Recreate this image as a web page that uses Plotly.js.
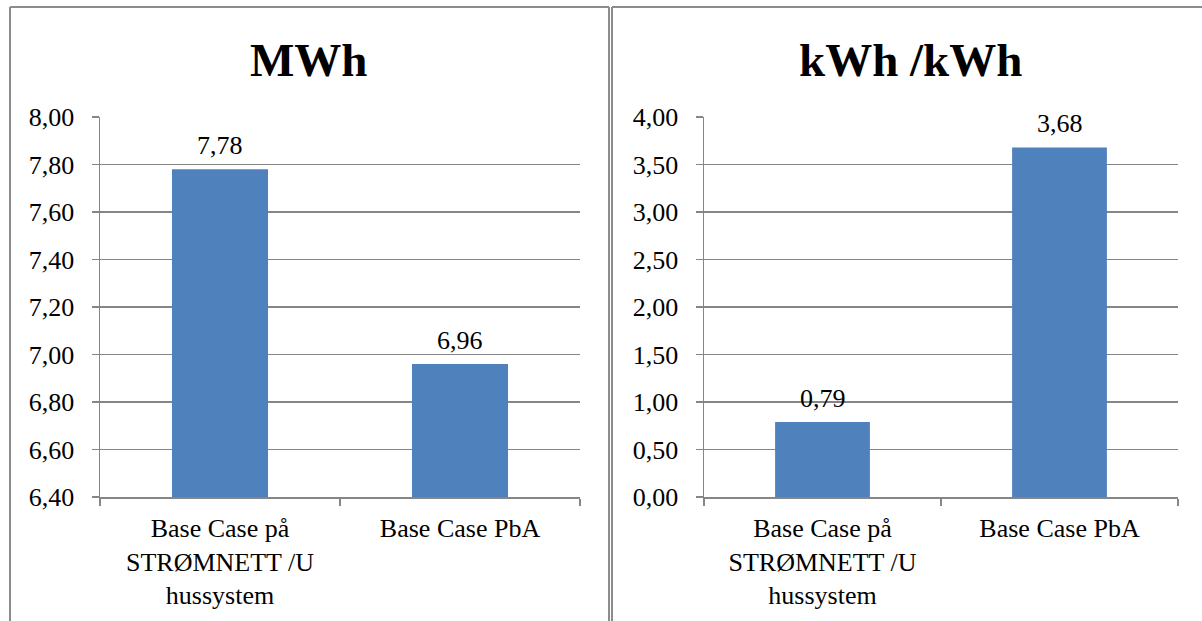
<!DOCTYPE html>
<html>
<head>
<meta charset="utf-8">
<script src="https://cdn.plot.ly/plotly-3.0.1.min.js"></script>
<style>
  html, body { margin: 0; padding: 0; background: #ffffff; }
  #chart { width: 1202px; height: 621px; }
</style>
</head>
<body>
<div id="chart"></div>
<script>
// Two side-by-side bar panels: energy (MWh) and energy ratio (kWh/kWh)
var categories = ["Base Case på<br>STRØMNETT /U<br>hussystem", "Base Case PbA"];
var energyMWh = [7.78, 6.96];
var ratioKWh = [0.79, 3.68];
var panelTitles = ["MWh", "kWh /kWh"];

var W = 1202, H = 621;
var barColor = "#4F81BD";
var gridColor = "#868686";
var serif = "Liberation Serif";
var labelSize = 26;

function px(x) { return x / W; }
function py(y) { return 1 - y / H; }

var barCommon = {
  type: "bar",
  marker: { color: barColor },
  width: 0.4,
  hoverinfo: "skip"
};

var traces = [
  Object.assign({}, barCommon, { x: categories, y: energyMWh, xaxis: "x", yaxis: "y" }),
  Object.assign({}, barCommon, { x: categories, y: ratioKWh, xaxis: "x2", yaxis: "y2" })
];

function fmt(v) { return v.toFixed(2).replace(".", ","); }

function xAxis(domain, anchor) {
  return {
    domain: domain, anchor: anchor, type: "category",
    showline: true, linecolor: gridColor, linewidth: 1.5,
    ticks: "outside", tickson: "boundaries", ticklen: 7, tickcolor: gridColor, tickwidth: 1.5,
    showgrid: false, tickangle: 0, ticklabelstandoff: 7,
    tickfont: { family: serif, size: labelSize, color: "#000000" }
  };
}
function yAxis(domain, anchor, range, dtick) {
  return {
    domain: domain, anchor: anchor, range: range, dtick: dtick, tick0: range[0],
    tickformat: ".2f",
    showline: true, linecolor: gridColor, linewidth: 1.5,
    ticks: "outside", ticklen: 7, tickcolor: gridColor, tickwidth: 1.5,
    showgrid: true, gridcolor: gridColor, gridwidth: 1.5,
    zeroline: false, ticklabelstandoff: 12,
    tickfont: { family: serif, size: labelSize, color: "#000000" }
  };
}

var yDom = [py(497), py(117)];

var panelBorder = { color: "#8c8c8c", width: 2 };
var shapes = [
  // left panel frame
  { type: "line", xref: "paper", yref: "paper", x0: px(10), x1: px(10), y0: py(7), y1: -0.05, line: panelBorder },
  { type: "line", xref: "paper", yref: "paper", x0: px(10), x1: px(609), y0: py(7), y1: py(7), line: panelBorder },
  { type: "line", xref: "paper", yref: "paper", x0: px(609), x1: px(609), y0: py(7), y1: -0.05, line: panelBorder },
  // right panel frame
  { type: "line", xref: "paper", yref: "paper", x0: px(612), x1: px(612), y0: py(7), y1: -0.05, line: panelBorder },
  { type: "line", xref: "paper", yref: "paper", x0: px(612), x1: 1.05, y0: py(7), y1: py(7), line: panelBorder }
];

var annotations = [
  { text: "<b>" + panelTitles[0] + "</b>", xref: "paper", yref: "paper", x: px(309), y: py(60),
    showarrow: false, xanchor: "center", yanchor: "middle", font: { family: serif, size: 47, color: "#000000" } },
  { text: "<b>" + panelTitles[1] + "</b>", xref: "paper", yref: "paper", x: px(910), y: py(60),
    showarrow: false, xanchor: "center", yanchor: "middle", font: { family: serif, size: 47, color: "#000000" } }
];

// value labels above each bar, positioned by the data values
[[energyMWh, "x", "y"], [ratioKWh, "x2", "y2"]].forEach(function (s) {
  s[0].forEach(function (v, i) {
    annotations.push({
      text: fmt(v), xref: s[1], yref: s[2], x: categories[i], y: v,
      showarrow: false, xanchor: "center", yanchor: "bottom", yshift: 7,
      font: { family: serif, size: labelSize, color: "#000000" }
    });
  });
});

var layout = {
  width: W, height: H,
  margin: { l: 0, r: 0, t: 0, b: 0 },
  paper_bgcolor: "#ffffff", plot_bgcolor: "#ffffff",
  separators: ",.",
  showlegend: false,
  xaxis: xAxis([px(100), px(580)], "y"),
  yaxis: yAxis(yDom, "x", [6.4, 8.0], 0.2),
  xaxis2: xAxis([px(704), px(1178)], "y2"),
  yaxis2: yAxis(yDom, "x2", [0, 4], 0.5),
  shapes: shapes,
  annotations: annotations
};

Plotly.newPlot("chart", traces, layout, { displayModeBar: false, staticPlot: true });
</script>
</body>
</html>
